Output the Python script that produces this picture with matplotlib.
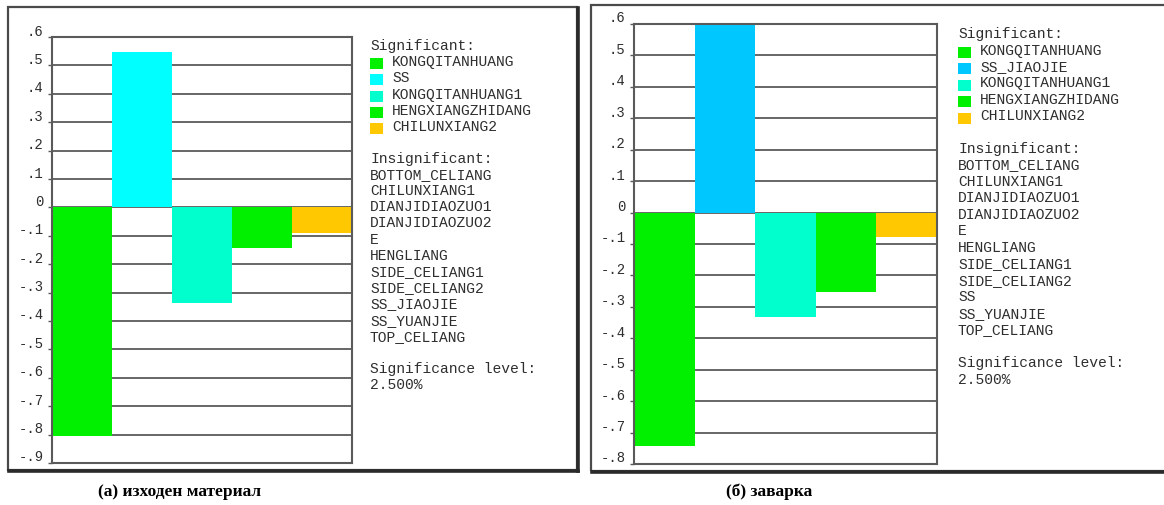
import numpy as np
import matplotlib
matplotlib.use("Agg")
import matplotlib.pyplot as plt
from matplotlib.patches import Rectangle
from matplotlib.lines import Line2D
from matplotlib.transforms import ScaledTranslation

W, H = 1164, 506
MONO = "Liberation Mono"
TXT = "#2e2e2e"
GRID = "#5a5a5a"

# (а) base material
names_a = ["KONGQITANHUANG", "SS", "KONGQITANHUANG1", "HENGXIANGZHIDANG", "CHILUNXIANG2"]
effects_a = [-0.805, 0.547, -0.337, -0.143, -0.089]
colors_a = ["#00f000", "#00ffff", "#00ffcc", "#00f000", "#ffc800"]
insig_a = ["BOTTOM_CELIANG", "CHILUNXIANG1", "DIANJIDIAOZUO1", "DIANJIDIAOZUO2", "E",
           "HENGLIANG", "SIDE_CELIANG1", "SIDE_CELIANG2", "SS_JIAOJIE", "SS_YUANJIE",
           "TOP_CELIANG"]
yticks_a = [0.6, 0.5, 0.4, 0.3, 0.2, 0.1, 0.0, -0.1, -0.2, -0.3, -0.4, -0.5, -0.6, -0.7, -0.8, -0.9]

# (б) weld
names_b = ["KONGQITANHUANG", "SS_JIAOJIE", "KONGQITANHUANG1", "HENGXIANGZHIDANG", "CHILUNXIANG2"]
effects_b = [-0.742, 0.597, -0.333, -0.252, -0.078]
colors_b = ["#00f000", "#00c8ff", "#00ffcc", "#00f000", "#ffc800"]
insig_b = ["BOTTOM_CELIANG", "CHILUNXIANG1", "DIANJIDIAOZUO1", "DIANJIDIAOZUO2", "E",
           "HENGLIANG", "SIDE_CELIANG1", "SIDE_CELIANG2", "SS", "SS_YUANJIE",
           "TOP_CELIANG"]
yticks_b = [0.6, 0.5, 0.4, 0.3, 0.2, 0.1, 0.0, -0.1, -0.2, -0.3, -0.4, -0.5, -0.6, -0.7, -0.8]

sig_level = "2.500%"
captions = ["(а) изходен материал", "(б) заварка"]


def fx(x):
    return x / W


def fy(y):
    return 1 - y / H


def tick_fmt(v):
    if abs(v) < 1e-9:
        return "0"
    s = f"{v:.1f}"
    return s.replace("0.", ".")


fig = plt.figure(figsize=(W / 100, H / 100), dpi=100)
fig.patch.set_facecolor("white")


def panel_frame(x0, y0, x1, y1):
    fig.add_artist(Rectangle((fx(x0), fy(y1)), fx(x1 - x0), (y1 - y0) / H,
                             transform=fig.transFigure, fill=False,
                             edgecolor="#4a4a4a", lw=1.6))
    # heavier shadow edge on the bottom and right
    fig.add_artist(Line2D([fx(x0 + 1), fx(x1 + 1)], [fy(y1 + 1)] * 2,
                          transform=fig.transFigure, color="#2a2a2a", lw=2.6))
    fig.add_artist(Line2D([fx(x1 + 1)] * 2, [fy(y0 + 1), fy(y1 + 1)],
                          transform=fig.transFigure, color="#2a2a2a", lw=2.6))


def draw_panel(box, effects, colors, yticks, names, insig, lx, ly, step, ylo, yhi):
    x0, y0, x1, y1 = box
    ax = fig.add_axes([fx(x0), fy(y1), fx(x1 - x0), (y1 - y0) / H])
    ax.set_axisbelow(True)
    ax.bar(np.arange(len(effects)), effects, width=1.0, color=colors,
           edgecolor="none", zorder=2)
    ax.set_xlim(-0.5, len(effects) - 0.5)
    ax.set_ylim(ylo, yhi)
    ax.set_xticks([])
    ax.set_yticks(yticks)
    ax.set_yticklabels([tick_fmt(v) for v in yticks], fontfamily=MONO,
                       fontsize=10, color=TXT)
    ax.tick_params(axis="y", length=3, width=1, color=GRID, pad=3)
    off = ScaledTranslation(0, 8 / 100, fig.dpi_scale_trans)
    for lab in ax.get_yticklabels():
        lab.set_transform(lab.get_transform() + off)
    ax.yaxis.grid(True, color=GRID, lw=1.3)
    for sp in ax.spines.values():
        sp.set_color(GRID)
        sp.set_linewidth(1.5)

    # legend block on the right
    fs = 10.5
    fig.text(fx(lx), fy(ly), "Significant:", fontfamily=MONO, fontsize=fs,
             color=TXT, va="center", ha="left")
    y = ly + step
    for n, c in zip(names, colors):
        fig.add_artist(Rectangle((fx(lx), fy(y + 8)), fx(13), 11 / H,
                                 transform=fig.transFigure, facecolor=c,
                                 edgecolor="none"))
        fig.text(fx(lx + 22), fy(y), n, fontfamily=MONO, fontsize=fs,
                 color=TXT, va="center", ha="left")
        y += step
    y += step * 0.95
    fig.text(fx(lx), fy(y), "Insignificant:", fontfamily=MONO, fontsize=fs,
             color=TXT, va="center", ha="left")
    for n in insig:
        y += step
        fig.text(fx(lx), fy(y), n, fontfamily=MONO, fontsize=fs,
                 color=TXT, va="center", ha="left")
    y += step * 2
    fig.text(fx(lx), fy(y), "Significance level:", fontfamily=MONO,
             fontsize=fs, color=TXT, va="center", ha="left")
    fig.text(fx(lx), fy(y + step), sig_level, fontfamily=MONO, fontsize=fs,
             color=TXT, va="center", ha="left")
    return ax


panel_frame(8, 8, 577, 471)
panel_frame(591, 6, 1170, 472)

draw_panel((52, 38, 352, 464), effects_a, colors_a, yticks_a, names_a, insig_a,
           370, 46, 16.2, -0.9, 0.6)
draw_panel((634, 25, 937, 465), effects_b, colors_b, yticks_b, names_b, insig_b,
           958, 34, 16.5, -0.8, 0.6)

fig.text(fx(180), fy(492), captions[0], fontfamily="Liberation Serif",
         fontweight="bold", fontsize=12.5, ha="center", va="center", color="black")
fig.text(fx(769), fy(492), captions[1], fontfamily="Liberation Serif",
         fontweight="bold", fontsize=12.5, ha="center", va="center", color="black")

fig.savefig("out.png", dpi=100, facecolor="white")
